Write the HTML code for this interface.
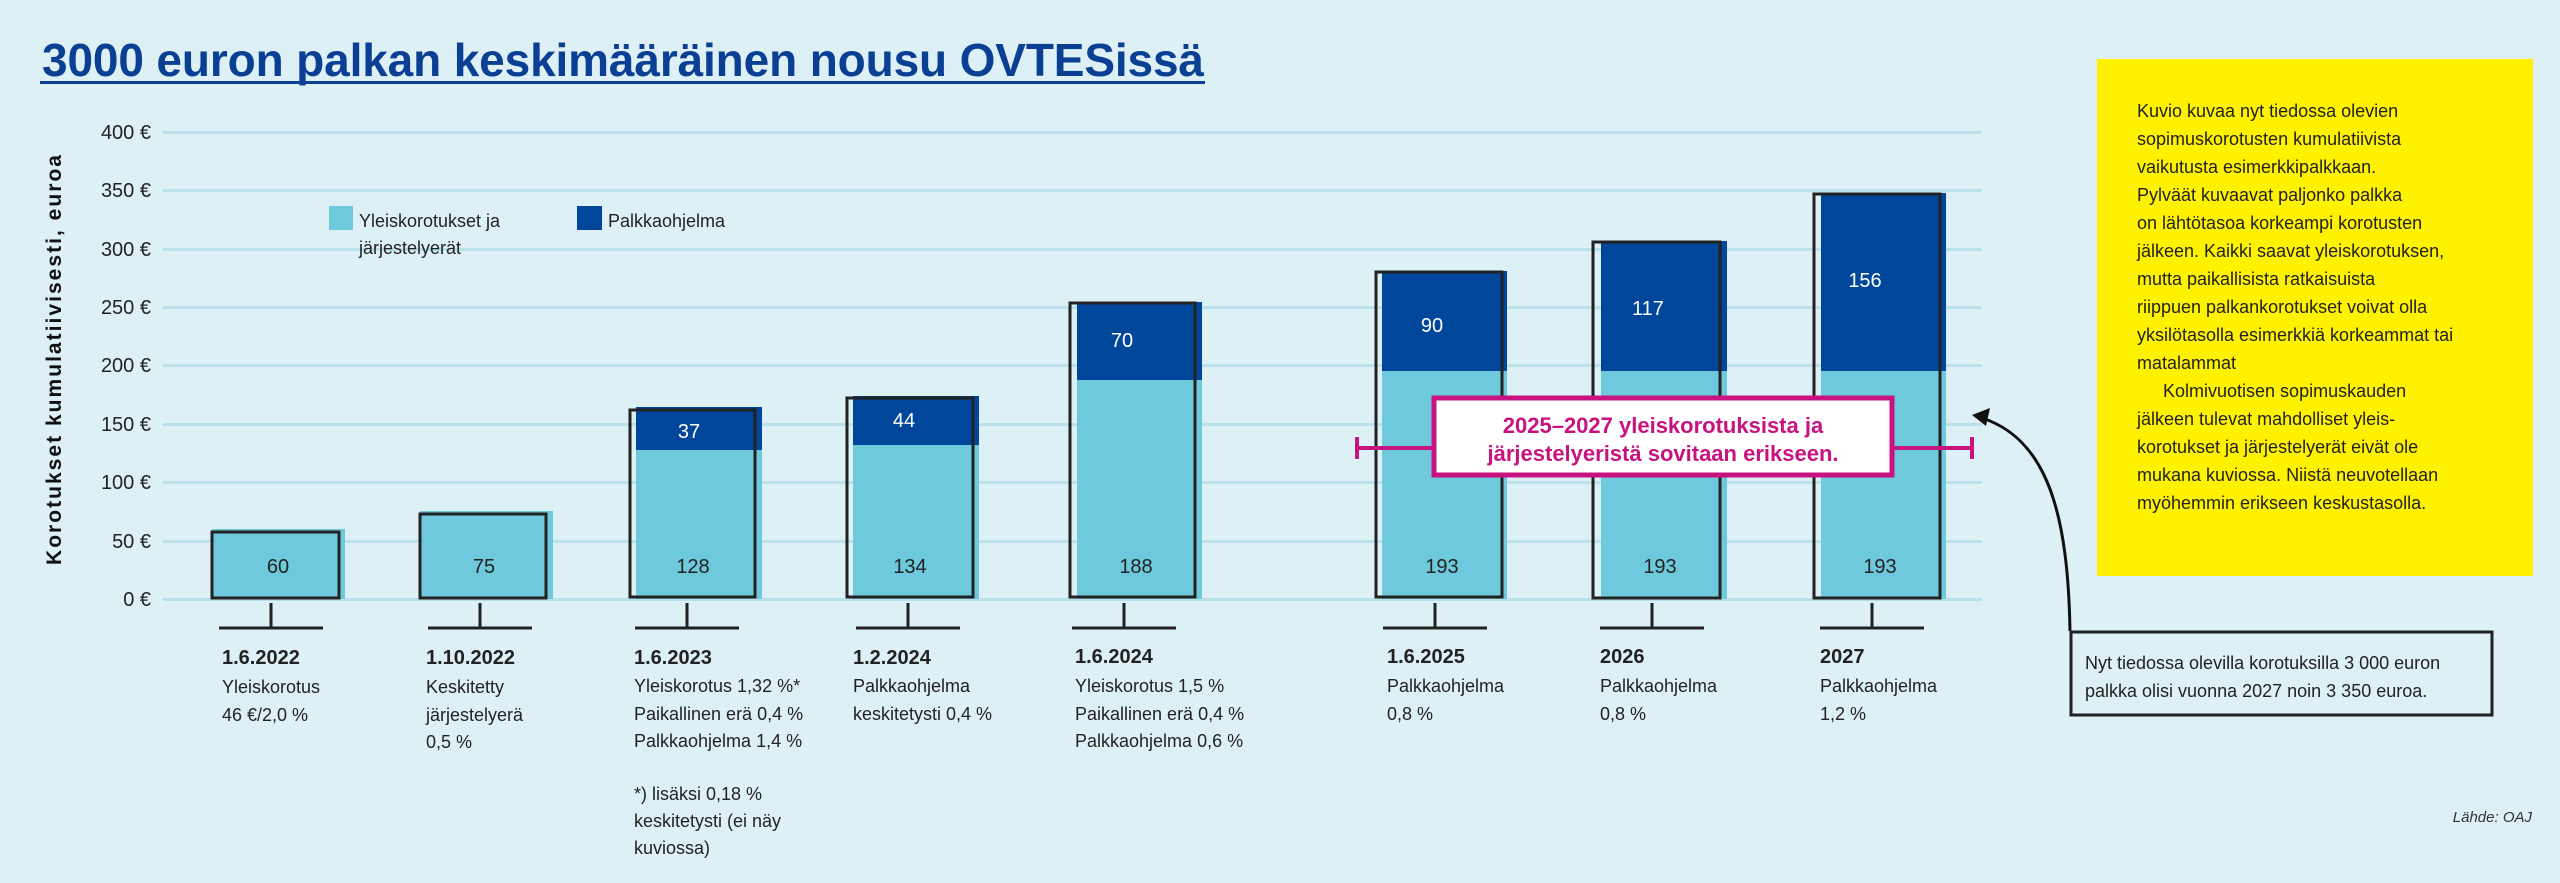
<!DOCTYPE html>
<html><head><meta charset="utf-8"><style>
html,body{margin:0;padding:0;background:#dcf0f6;}
svg{display:block;font-family:"Liberation Sans",sans-serif;}
</style></head><body>
<svg width="2560" height="883" viewBox="0 0 2560 883" xmlns="http://www.w3.org/2000/svg">
<rect width="2560" height="883" fill="#dcf0f6"/>
<text x="42" y="76" font-size="46" font-weight="bold" fill="#0b3f93" textLength="1162">3000 euron palkan keskimääräinen nousu OVTESissä</text>
<rect x="40" y="81" width="1165" height="3" fill="#0b3f93"/>
<g fill="#b9e1ea">
<rect x="163" y="131" width="1819" height="3"/>
<rect x="163" y="189" width="1819" height="3"/>
<rect x="163" y="248" width="1819" height="3"/>
<rect x="163" y="306" width="1819" height="3"/>
<rect x="163" y="364" width="1819" height="3"/>
<rect x="163" y="423" width="1819" height="3"/>
<rect x="163" y="481" width="1819" height="3"/>
<rect x="163" y="540" width="1819" height="3"/>
<rect x="163" y="598" width="1819" height="3"/>
</g>
<g font-size="20" fill="#222" text-anchor="end">
<text x="151" y="139">400 €</text><text x="151" y="197">350 €</text><text x="151" y="256">300 €</text>
<text x="151" y="314">250 €</text><text x="151" y="372">200 €</text><text x="151" y="431">150 €</text>
<text x="151" y="489">100 €</text><text x="151" y="548">50 €</text><text x="151" y="606">0 €</text>
</g>
<text transform="translate(61,360) rotate(-90)" text-anchor="middle" font-size="21" font-weight="bold" fill="#111" textLength="410">Korotukset kumulatiivisesti, euroa</text>
<rect x="329" y="206" width="24" height="24" fill="#6ec9dc"/>
<text x="359" y="227" font-size="18" fill="#222">Yleiskorotukset ja</text>
<text x="359" y="254" font-size="18" fill="#222">järjestelyerät</text>
<rect x="577" y="206" width="25" height="24" fill="#00479b"/>
<text x="608" y="227" font-size="18" fill="#222">Palkkaohjelma</text>
<g>
<rect x="212" y="529" width="133" height="70" fill="#6ec9dc"/>
<rect x="212" y="532" width="127" height="66" fill="none" stroke="#222" stroke-width="3"/>
<rect x="420" y="511" width="133" height="88" fill="#6ec9dc"/>
<rect x="420" y="514" width="126" height="84" fill="none" stroke="#222" stroke-width="3"/>
<rect x="636" y="450" width="126" height="149" fill="#6ec9dc"/>
<rect x="636" y="407" width="126" height="43" fill="#00479b"/>
<rect x="630" y="410" width="125" height="187" fill="none" stroke="#222" stroke-width="3"/>
<rect x="853" y="443" width="126" height="156" fill="#6ec9dc"/>
<rect x="853" y="396" width="126" height="49" fill="#00479b"/>
<rect x="847" y="398" width="126" height="199" fill="none" stroke="#222" stroke-width="3"/>
<rect x="1077" y="380" width="125" height="219" fill="#6ec9dc"/>
<rect x="1077" y="302" width="125" height="78" fill="#00479b"/>
<rect x="1070" y="303" width="125" height="294" fill="none" stroke="#222" stroke-width="3"/>
<rect x="1382" y="371" width="125" height="228" fill="#6ec9dc"/>
<rect x="1382" y="271" width="125" height="100" fill="#00479b"/>
<rect x="1376" y="272" width="126" height="325" fill="none" stroke="#222" stroke-width="3"/>
<rect x="1601" y="371" width="126" height="228" fill="#6ec9dc"/>
<rect x="1601" y="241" width="126" height="130" fill="#00479b"/>
<rect x="1593" y="242" width="127" height="356" fill="none" stroke="#222" stroke-width="3"/>
<rect x="1821" y="371" width="125" height="228" fill="#6ec9dc"/>
<rect x="1821" y="193" width="125" height="178" fill="#00479b"/>
<rect x="1814" y="194" width="126" height="404" fill="none" stroke="#222" stroke-width="3"/>
</g>
<g font-size="20" fill="#222" text-anchor="middle">
<text x="278" y="573">60</text><text x="484" y="573">75</text><text x="693" y="573">128</text>
<text x="910" y="573">134</text><text x="1136" y="573">188</text><text x="1442" y="573">193</text>
<text x="1660" y="573">193</text><text x="1880" y="573">193</text>
</g>
<g font-size="20" fill="#fff" text-anchor="middle">
<text x="689" y="438">37</text><text x="904" y="427">44</text><text x="1122" y="347">70</text>
<text x="1432" y="332">90</text><text x="1648" y="315">117</text><text x="1865" y="287">156</text>
</g>
<g stroke="#222" stroke-width="3">
<path d="M271 603V628M219 628H323"/>
<path d="M480 603V628M428 628H532"/>
<path d="M687 603V628M635 628H739"/>
<path d="M908 603V628M856 628H960"/>
<path d="M1124 603V628M1072 628H1176"/>
<path d="M1435 603V628M1383 628H1487"/>
<path d="M1652 603V628M1600 628H1704"/>
<path d="M1872 603V628M1820 628H1924"/>
</g>
<g font-size="18" fill="#222">
<g font-weight="bold" font-size="20">
<text x="222" y="664">1.6.2022</text><text x="426" y="664">1.10.2022</text><text x="634" y="664">1.6.2023</text>
<text x="853" y="664">1.2.2024</text><text x="1075" y="663">1.6.2024</text><text x="1387" y="663">1.6.2025</text>
<text x="1600" y="663">2026</text><text x="1820" y="663">2027</text>
</g>
<text x="222" y="693">Yleiskorotus</text><text x="222" y="721">46 €/2,0 %</text>
<text x="426" y="693">Keskitetty</text><text x="426" y="721">järjestelyerä</text><text x="426" y="748">0,5 %</text>
<text x="634" y="692">Yleiskorotus 1,32 %*</text><text x="634" y="720">Paikallinen erä 0,4 %</text><text x="634" y="747">Palkkaohjelma 1,4 %</text>
<text x="634" y="800">*) lisäksi 0,18 %</text><text x="634" y="827">keskitetysti (ei näy</text><text x="634" y="854">kuviossa)</text>
<text x="853" y="692">Palkkaohjelma</text><text x="853" y="720">keskitetysti 0,4 %</text>
<text x="1075" y="692">Yleiskorotus 1,5 %</text><text x="1075" y="720">Paikallinen erä 0,4 %</text><text x="1075" y="747">Palkkaohjelma 0,6 %</text>
<text x="1387" y="692">Palkkaohjelma</text><text x="1387" y="720">0,8 %</text>
<text x="1600" y="692">Palkkaohjelma</text><text x="1600" y="720">0,8 %</text>
<text x="1820" y="692">Palkkaohjelma</text><text x="1820" y="720">1,2 %</text>
</g>
<path d="M1357 448H1972M1357 437V459M1972 437V459" stroke="#c8127f" stroke-width="4" fill="none"/>
<rect x="1434" y="398" width="458" height="77" fill="#fff" stroke="#c8127f" stroke-width="5"/>
<g font-size="22" font-weight="bold" fill="#c8127f" text-anchor="middle">
<text x="1663" y="433">2025–2027 yleiskorotuksista ja</text>
<text x="1663" y="461">järjestelyeristä sovitaan erikseen.</text>
</g>
<rect x="2097" y="59" width="436" height="517" fill="#fff200"/>
<g font-size="18" fill="#222">
<text x="2137" y="117">Kuvio kuvaa nyt tiedossa olevien</text>
<text x="2137" y="145">sopimuskorotusten kumulatiivista</text>
<text x="2137" y="173">vaikutusta esimerkkipalkkaan.</text>
<text x="2137" y="201">Pylväät kuvaavat paljonko palkka</text>
<text x="2137" y="229">on lähtötasoa korkeampi korotusten</text>
<text x="2137" y="257">jälkeen. Kaikki saavat yleiskorotuksen,</text>
<text x="2137" y="285">mutta paikallisista ratkaisuista</text>
<text x="2137" y="313">riippuen palkankorotukset voivat olla</text>
<text x="2137" y="341">yksilötasolla esimerkkiä korkeammat tai</text>
<text x="2137" y="369">matalammat</text>
<text x="2163" y="397">Kolmivuotisen sopimuskauden</text>
<text x="2137" y="425">jälkeen tulevat mahdolliset yleis-</text>
<text x="2137" y="453">korotukset ja järjestelyerät eivät ole</text>
<text x="2137" y="481">mukana kuviossa. Niistä neuvotellaan</text>
<text x="2137" y="509">myöhemmin erikseen keskustasolla.</text>
</g>
<path d="M2070 631 C2068 520 2050 440 1982 418" stroke="#111" stroke-width="3" fill="none"/>
<path d="M1972 415 L1990 408 L1986 426 Z" fill="#111"/>
<rect x="2071" y="632" width="421" height="83" fill="none" stroke="#222" stroke-width="3"/>
<g font-size="18" fill="#222">
<text x="2085" y="669">Nyt tiedossa olevilla korotuksilla 3 000 euron</text>
<text x="2085" y="697">palkka olisi vuonna 2027 noin 3 350 euroa.</text>
</g>
<text x="2532" y="822" font-size="15" font-style="italic" fill="#333" text-anchor="end">Lähde: OAJ</text>
</svg>
</body></html>
